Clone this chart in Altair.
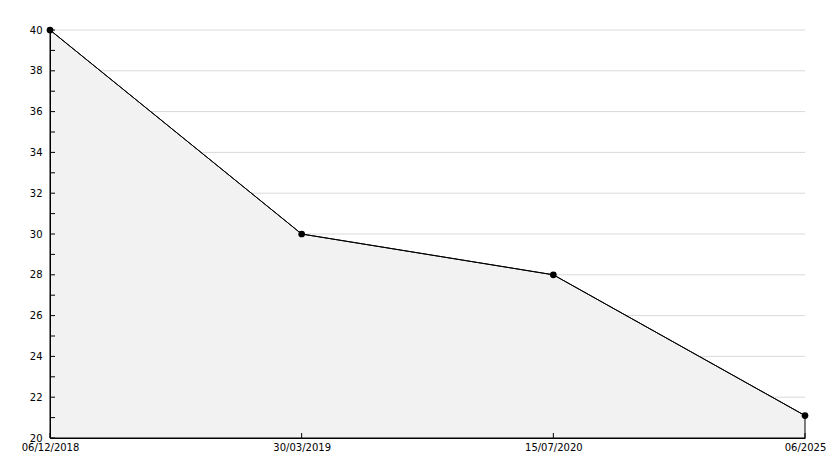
import altair as alt
import pandas as pd

categories = ["06/12/2018", "30/03/2019", "15/07/2020", "06/2025"]
values = [40, 30, 28, 21.1]
y_tick_values = [20, 21, 22, 23, 24, 25, 26, 27, 28, 29, 30, 31, 32, 33, 34, 35, 36, 37, 38, 39, 40]
y_label_values = [20, 22, 24, 26, 28, 30, 32, 34, 36, 38, 40]

W, H = 755, 408
FONT = "DejaVu Sans"

df = pd.DataFrame({"date": categories, "value": values})
ticks_df = pd.DataFrame({"t": y_tick_values})
grid_df = pd.DataFrame({"g": y_label_values})

xscale = alt.Scale(type="point", padding=0, domain=categories)
yscale = alt.Scale(domain=[20, 40], nice=False, zero=False)

x_axis = alt.Axis(title=None, labelAngle=0, ticks=False, grid=False,
                  domainColor="#000000", labelColor="#000000",
                  labelFont=FONT, labelFontSize=10, labelPadding=4,
                  labelOverlap=False, labelLimit=200, zindex=1)
y_axis = alt.Axis(title=None, values=y_label_values, ticks=False,
                  grid=False, domainColor="#000000",
                  labelColor="#000000", labelFont=FONT, labelFontSize=10,
                  labelPadding=8, zindex=1)

base = alt.Chart(df)

grid = alt.Chart(grid_df).mark_rule(color="#d9d9d9", strokeWidth=1).encode(
    y=alt.Y("g:Q", scale=yscale, axis=y_axis),
    x=alt.value(0), x2=alt.value(W))

area = base.mark_area(color="#f2f2f2", stroke="#000000", strokeWidth=1,
                      fillOpacity=1, opacity=1).encode(
    x=alt.X("date:N", scale=xscale, sort=categories, axis=x_axis),
    y=alt.Y("value:Q", scale=yscale), y2=alt.datum(20))
line = base.mark_line(color="#000000", strokeWidth=1).encode(
    x=alt.X("date:N", scale=xscale, sort=categories),
    y=alt.Y("value:Q", scale=yscale))
pts = base.mark_point(shape="circle", filled=True, color="#000000", size=45,
                      opacity=1).encode(
    x=alt.X("date:N", scale=xscale, sort=categories),
    y=alt.Y("value:Q", scale=yscale))

ytick_rules = alt.Chart(ticks_df).mark_rule(color="#000000", strokeWidth=1).encode(
    y=alt.Y("t:Q", scale=yscale),
    x=alt.value(0), x2=alt.value(5))
xtick_rules = alt.Chart(df).mark_rule(color="#000000", strokeWidth=1).encode(
    x=alt.X("date:N", scale=xscale, sort=categories),
    y=alt.value(H - 5), y2=alt.value(H))

chart = alt.layer(grid, area, line, ytick_rules, xtick_rules, pts).properties(
    width=W, height=H,
    autosize=alt.AutoSizeParams(type="none"),
    padding={"left": 42, "top": 22, "right": 21, "bottom": 22},
    background="#ffffff",
).configure_view(stroke=None)

chart.save("out.html", embed_options={"renderer": "svg", "actions": False})
